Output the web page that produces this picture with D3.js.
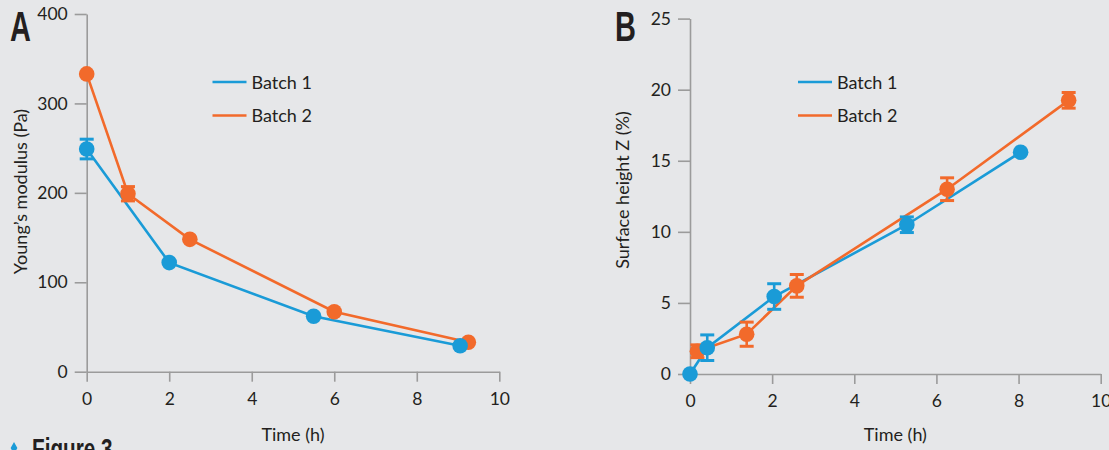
<!DOCTYPE html>
<html><head><meta charset="utf-8">
<script src="https://cdn.jsdelivr.net/npm/d3@7"></script>
<style>
html,body{margin:0;padding:0;background:#e6e7e9;}
svg{display:block;}
text{font-family:Lato,"Open Sans",sans-serif;fill:#231f20;}
.panel{font-family:"Liberation Sans",Arial,sans-serif;font-weight:bold;}
</style></head>
<body>
<svg id="chart" width="1109" height="450"></svg>
<script>
// ---- Data ----
const xTicks = [0, 2, 4, 6, 8, 10];
const yTicksA = [0, 100, 200, 300, 400];
const yTicksB = [0, 5, 10, 15, 20, 25];
const seriesNames = ["Batch 1", "Batch 2"];

const timeA1 = [0, 2, 5.5, 9.05];
const modA1  = [249, 122, 62, 29];
const errA1  = [11, 0, 0, 0];
const timeA2 = [0, 1, 2.5, 6, 9.25];
const modA2  = [333, 199, 148, 67, 33];
const errA2  = [0, 8, 0, 0, 0];

const timeB1 = [0, 0.42, 2.05, 5.28, 8.05];
const zB1    = [0, 1.85, 5.45, 10.5, 15.6];
const errB1  = [0, 0.9, 0.9, 0.55, 0];
const timeB2 = [0.18, 1.38, 2.6, 6.26, 9.22];
const zB2    = [1.6, 2.8, 6.2, 13.0, 19.25];
const errB2  = [0.45, 0.85, 0.8, 0.8, 0.55];

const colors = ["#1a9bd7", "#f26a2b"];
const axisColor = "#9b9b9b";

const svg = d3.select("#chart");

function zip(xs, ys, es){ return xs.map((x,i)=>({x, y:ys[i], e:es[i]})); }

function condensedText(x, y, size, str){
  svg.append("text").attr("class","panel")
    .attr("transform",`translate(${x},${y}) scale(0.69,1)`)
    .style("font-size",size+"px").text(str);
}

function panel(opts){
  const {x0,x1,y0,y1,yDomain,yTicks,series,label,labelX,yTitle,yTitleX,yTitleY,legendX} = opts;
  const x = d3.scaleLinear().domain([0,10]).range([x0,x1]);
  const y = d3.scaleLinear().domain(yDomain).range([y0,y1]);
  const g = svg.append("g");

  const ya = g.append("g").attr("transform",`translate(${x0},0)`)
    .call(d3.axisLeft(y).tickValues(yTicks).tickSize(12).tickPadding(7).tickSizeOuter(0));
  const xa = g.append("g").attr("transform",`translate(0,${y0})`)
    .call(d3.axisBottom(x).tickValues(xTicks).tickSize(10).tickPadding(11).tickSizeOuter(0));
  [ya,xa].forEach(a=>{
    a.select(".domain").attr("stroke",axisColor).attr("stroke-width",1.6);
    a.selectAll(".tick line").attr("stroke",axisColor).attr("stroke-width",1.6);
    a.selectAll(".tick text").style("font-family","Lato").style("font-size","17.5px").attr("fill","#231f20");
  });

  const line = d3.line().x(d=>x(d.x)).y(d=>y(d.y));
  series.forEach((s,i)=>{
    g.append("path").datum(s).attr("d",line).attr("fill","none")
      .attr("stroke",colors[i]).attr("stroke-width",2.6);
  });
  // points: orange first then blue on top
  [1,0].forEach(i=>{
    const s = series[i];
    const eb = g.append("g");
    s.filter(d=>d.e>0).forEach(d=>{
      eb.append("line").attr("x1",x(d.x)).attr("x2",x(d.x)).attr("y1",y(d.y-d.e)).attr("y2",y(d.y+d.e))
        .attr("stroke",colors[i]).attr("stroke-width",2.6);
      [d.y-d.e,d.y+d.e].forEach(v=>{
        eb.append("line").attr("x1",x(d.x)-7).attr("x2",x(d.x)+7).attr("y1",y(v)).attr("y2",y(v))
          .attr("stroke",colors[i]).attr("stroke-width",3);
      });
    });
    g.selectAll(null).data(s).enter().append("circle")
      .attr("cx",d=>x(d.x)).attr("cy",d=>y(d.y)).attr("r",7.8).attr("fill",colors[i]);
  });

  // legend
  seriesNames.forEach((n,i)=>{
    const ly = 82 + i*33.5;
    g.append("line").attr("x1",legendX).attr("x2",legendX+34).attr("y1",ly).attr("y2",ly)
      .attr("stroke",colors[i]).attr("stroke-width",2.6);
    g.append("text").attr("x",legendX+39).attr("y",ly+6.5).style("font-size","18px").text(n);
  });

  g.append("text").attr("x",(x0+x1)/2).attr("y",441).attr("text-anchor","middle")
    .style("font-size","18px").text("Time (h)");
  g.append("text").attr("transform",`translate(${yTitleX},${yTitleY}) rotate(-90)`)
    .attr("text-anchor","middle").style("font-size","18px").text(yTitle);
  condensedText(labelX, 41, 42, label);
}

panel({x0:86.7,x1:499.3,y0:371.7,y1:14,yDomain:[0,400],yTicks:yTicksA,
  series:[zip(timeA1,modA1,errA1),zip(timeA2,modA2,errA2)],
  label:"A",labelX:10,yTitle:"Young\u2019s modulus (Pa)",yTitleX:27,yTitleY:191.5,legendX:212.5});
panel({x0:690,x1:1100.7,y0:374,y1:18.6,yDomain:[0,25],yTicks:yTicksB,
  series:[zip(timeB1,zB1,errB1),zip(timeB2,zB2,errB2)],
  label:"B",labelX:615,yTitle:"Surface height Z (%)",yTitleX:629,yTitleY:190,legendX:798});

// caption fragment at bottom
svg.append("path").attr("d",d3.symbol().type(d3.symbolDiamond).size(40)())
  .attr("transform","translate(14,448)").attr("fill","#1a9bd7");
condensedText(32, 459, 30, "Figure 3");
</script>
</body></html>
